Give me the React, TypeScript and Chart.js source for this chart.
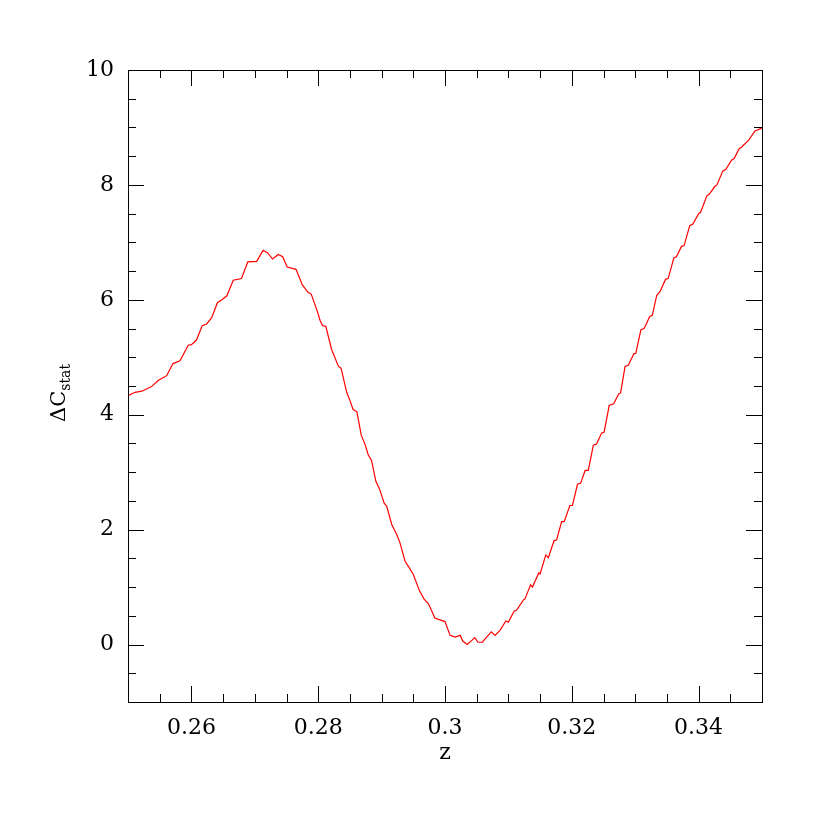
import React, { useEffect, useRef } from 'react';
import { Chart, registerables } from 'chart.js';
Chart.register(...registerables);

const zValues = [
  0.2500, 0.2511, 0.2522, 0.2537, 0.2548, 0.2561, 0.2571, 0.2582, 0.2595, 0.2600,
  0.2608, 0.2617, 0.2624, 0.2632, 0.2641, 0.2648, 0.2656, 0.2666, 0.2679, 0.2689,
  0.2703, 0.2713, 0.2720, 0.2728, 0.2737, 0.2744, 0.2751, 0.2765, 0.2775, 0.2784,
  0.2789, 0.2798, 0.2803, 0.2807, 0.2812, 0.2821, 0.2832, 0.2836, 0.2845, 0.2850,
  0.2855, 0.2861, 0.2868, 0.2874, 0.2879, 0.2884, 0.2891, 0.2897, 0.2904, 0.2908,
  0.2916, 0.2924, 0.2929, 0.2937, 0.2944, 0.2950, 0.2960, 0.2967, 0.2974, 0.2984,
  0.2992, 0.3000, 0.3008, 0.3016, 0.3024, 0.3028, 0.3035, 0.3041, 0.3047, 0.3052,
  0.3059, 0.3065, 0.3073, 0.3079, 0.3087, 0.3096, 0.3100, 0.3109, 0.3113, 0.3124,
  0.3126, 0.3135, 0.3138, 0.3148, 0.3150, 0.3159, 0.3163, 0.3172, 0.3176, 0.3184,
  0.3188, 0.3197, 0.3201, 0.3209, 0.3214, 0.3221, 0.3226, 0.3234, 0.3239, 0.3247,
  0.3251, 0.3259, 0.3266, 0.3274, 0.3277, 0.3284, 0.3289, 0.3298, 0.3301, 0.3309,
  0.3314, 0.3323, 0.3327, 0.3334, 0.3339, 0.3348, 0.3352, 0.3361, 0.3365, 0.3373,
  0.3377, 0.3386, 0.3391, 0.3400, 0.3403, 0.3413, 0.3417, 0.3426, 0.3429, 0.3438,
  0.3443, 0.3452, 0.3456, 0.3464, 0.3468, 0.3479, 0.3489, 0.3500,
];

const deltaCstat = [
  4.33, 4.39, 4.41, 4.49, 4.60, 4.68, 4.89, 4.94, 5.21, 5.22,
  5.30, 5.55, 5.58, 5.69, 5.95, 6.00, 6.07, 6.34, 6.37, 6.66,
  6.67, 6.86, 6.82, 6.71, 6.79, 6.75, 6.57, 6.53, 6.26, 6.13,
  6.10, 5.82, 5.64, 5.55, 5.54, 5.14, 4.84, 4.81, 4.39, 4.25,
  4.09, 4.05, 3.64, 3.48, 3.30, 3.21, 2.84, 2.70, 2.46, 2.41,
  2.09, 1.91, 1.77, 1.45, 1.33, 1.22, 0.93, 0.79, 0.71, 0.46,
  0.43, 0.40, 0.16, 0.13, 0.16, 0.06, 0.00, 0.06, 0.12, 0.04,
  0.04, 0.12, 0.22, 0.16, 0.25, 0.41, 0.39, 0.58, 0.60, 0.78,
  0.79, 1.04, 1.00, 1.25, 1.23, 1.56, 1.51, 1.81, 1.82, 2.14,
  2.14, 2.42, 2.42, 2.79, 2.81, 3.03, 3.03, 3.47, 3.49, 3.68,
  3.70, 4.16, 4.19, 4.36, 4.38, 4.84, 4.86, 5.06, 5.07, 5.48,
  5.50, 5.71, 5.73, 6.08, 6.14, 6.36, 6.37, 6.73, 6.75, 6.93,
  6.94, 7.29, 7.32, 7.50, 7.52, 7.81, 7.84, 7.98, 8.00, 8.24,
  8.27, 8.43, 8.46, 8.63, 8.66, 8.78, 8.94, 8.99,
];

const xTickValues = [0.26, 0.28, 0.30, 0.32, 0.34];
const xTickLabels = ['0.26', '0.28', '0.3', '0.32', '0.34'];
const yTickValues = [0, 2, 4, 6, 8, 10];
const yTickLabels = ['0', '2', '4', '6', '8', '10'];
const xTitle = 'z';
const yTitleMain = 'ΔC';
const yTitleSub = 'stat';

const FONT = '"DejaVu Serif", serif';

const framePlugin = {
  id: 'frame',
  afterDraw(chart: any) {
    const { ctx, chartArea: a, scales } = chart;
    const xs = scales.x;
    const ys = scales.y;
    ctx.save();
    ctx.strokeStyle = '#000';
    ctx.lineWidth = 1;
    ctx.strokeRect(a.left + 0.5, a.top + 0.5, a.right - a.left, a.bottom - a.top);
    ctx.beginPath();
    for (let i = 0; i <= 20; i++) {
      const v = 0.25 + i * 0.005;
      const px = Math.round(xs.getPixelForValue(v)) + 0.5;
      const len = i % 4 === 2 ? 16 : 8;
      ctx.moveTo(px, a.bottom);
      ctx.lineTo(px, a.bottom - len);
      ctx.moveTo(px, a.top);
      ctx.lineTo(px, a.top + len);
    }
    for (let j = 0; j <= 22; j++) {
      const v = -1 + j * 0.5;
      const py = Math.round(ys.getPixelForValue(v)) + 0.5;
      const len = j % 4 === 2 ? 16 : 8;
      ctx.moveTo(a.left, py);
      ctx.lineTo(a.left + len, py);
      ctx.moveTo(a.right, py);
      ctx.lineTo(a.right - len, py);
    }
    ctx.stroke();

    // axis titles
    ctx.fillStyle = '#000';
    ctx.font = `22px ${FONT}`;
    ctx.textAlign = 'center';
    ctx.textBaseline = 'middle';
    ctx.fillText(xTitle, (a.left + a.right) / 2, 753);

    ctx.translate(57, 393);
    ctx.rotate(-Math.PI / 2);
    ctx.font = `21px ${FONT}`;
    const wMain = ctx.measureText(yTitleMain).width;
    ctx.font = `14px ${FONT}`;
    const wSub = ctx.measureText(yTitleSub).width;
    const total = wMain + wSub;
    ctx.textAlign = 'left';
    ctx.textBaseline = 'alphabetic';
    ctx.font = `21px ${FONT}`;
    ctx.fillText(yTitleMain, -total / 2, 8);
    ctx.font = `14px ${FONT}`;
    ctx.fillText(yTitleSub, -total / 2 + wMain, 13);
    ctx.restore();
  },
};

export default function App() {
  const ref = useRef<HTMLCanvasElement>(null);
  useEffect(() => {
    if (!ref.current) return;
    const chart = new Chart(ref.current, {
      type: 'line',
      data: {
        datasets: [
          {
            data: zValues.map((z, i) => ({ x: z, y: deltaCstat[i] })),
            borderColor: '#ff0000',
            borderWidth: 1.2,
            pointRadius: 0,
            tension: 0,
            fill: false,
          },
        ],
      },
      options: {
        animation: false,
        responsive: false,
        devicePixelRatio: 1,
        layout: { padding: { left: 0, top: 70, right: 68, bottom: 0 } },
        plugins: { legend: { display: false }, tooltip: { enabled: false } },
        scales: {
          x: {
            type: 'linear',
            min: 0.25,
            max: 0.35,
            grid: { display: false, drawTicks: false },
            border: { display: false },
            afterBuildTicks: (s: any) => {
              s.ticks = xTickValues.map((v) => ({ value: v }));
            },
            afterFit: (s: any) => {
              s.height = 128;
            },
            ticks: {
              autoSkip: false,
              maxRotation: 0,
              padding: 13,
              color: '#000',
              font: { family: FONT, size: 22 },
              callback: (v: any) => {
                const i = xTickValues.findIndex((t) => Math.abs(t - Number(v)) < 1e-9);
                return i >= 0 ? xTickLabels[i] : '';
              },
            },
          },
          y: {
            type: 'linear',
            min: -1,
            max: 10,
            grid: { display: false, drawTicks: false },
            border: { display: false },
            afterBuildTicks: (s: any) => {
              s.ticks = yTickValues.map((v) => ({ value: v }));
            },
            afterFit: (s: any) => {
              s.width = 128;
            },
            ticks: {
              autoSkip: false,
              padding: 14,
              color: '#000',
              font: { family: FONT, size: 22 },
              callback: (v: any) => {
                const i = yTickValues.findIndex((t) => Math.abs(t - Number(v)) < 1e-9);
                return i >= 0 ? yTickLabels[i] : '';
              },
            },
          },
        },
      },
      plugins: [framePlugin],
    });
    return () => chart.destroy();
  }, []);
  return (
    <div style={{ position: 'fixed', left: 0, top: 0, width: 830, height: 830, background: '#fff' }}>
      <canvas ref={ref} width={830} height={830} style={{ width: 830, height: 830 }} />
    </div>
  );
}
